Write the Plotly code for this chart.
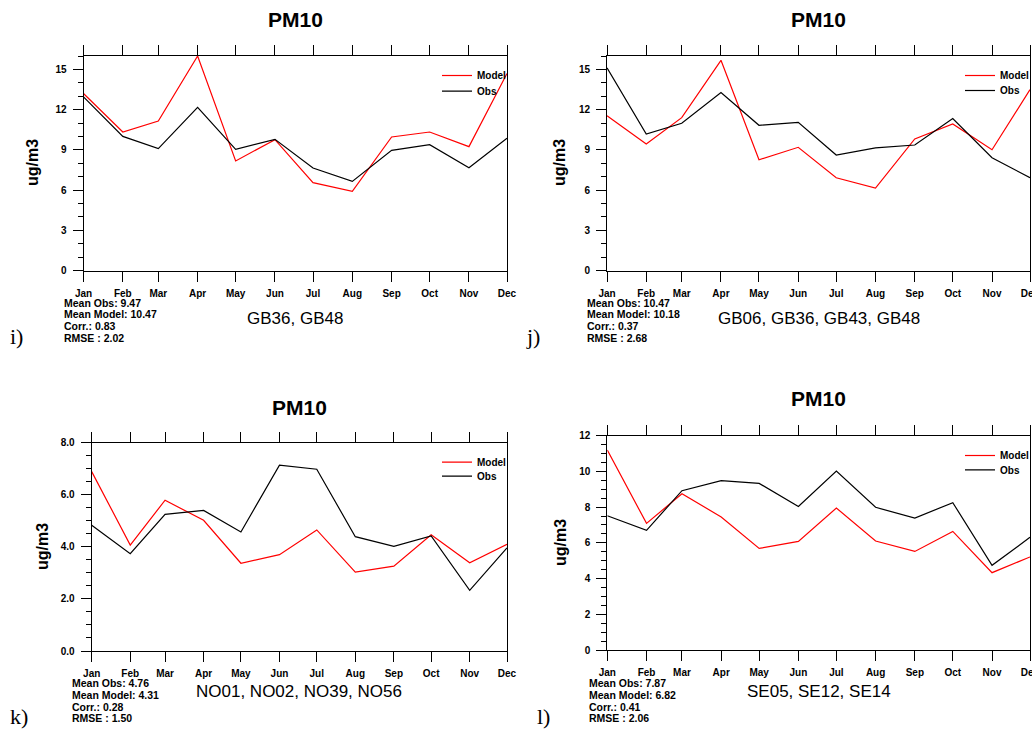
import plotly.graph_objects as go

# ---------------- data ----------------
month_labels = ["Jan", "Feb", "Mar", "Apr", "May", "Jun", "Jul", "Aug", "Sep", "Oct", "Nov", "Dec"]
month_dates = ["2001-01-01", "2001-02-01", "2001-03-01", "2001-04-01", "2001-05-01", "2001-06-01",
               "2001-07-01", "2001-08-01", "2001-09-01", "2001-10-01", "2001-11-01", "2001-12-01"]

i_model = [13.2, 10.33, 11.15, 16.0, 8.17, 9.76, 6.55, 5.9, 9.96, 10.33, 9.24, 14.7]
i_obs = [12.95, 10.0, 9.09, 12.17, 9.04, 9.78, 7.64, 6.65, 8.96, 9.39, 7.67, 9.86]
j_model = [11.55, 9.43, 11.4, 15.68, 8.26, 9.19, 6.92, 6.15, 9.81, 10.93, 9.01, 13.49]
j_obs = [15.11, 10.18, 10.98, 13.27, 10.83, 11.05, 8.61, 9.14, 9.36, 11.33, 8.41, 6.92]
k_model = [6.89, 4.07, 5.79, 5.02, 3.37, 3.70, 4.65, 3.03, 3.26, 4.46, 3.39, 4.10]
k_obs = [4.83, 3.74, 5.25, 5.40, 4.57, 7.14, 6.98, 4.39, 4.02, 4.42, 2.33, 3.96]
l_model = [11.2, 7.09, 8.75, 7.45, 5.69, 6.08, 7.95, 6.10, 5.52, 6.64, 4.33, 5.21]
l_obs = [7.52, 6.70, 8.92, 9.48, 9.33, 8.04, 10.02, 7.99, 7.39, 8.25, 4.74, 6.31]

panel_tags = ["i)", "j)", "k)", "l)"]
station_groups = ["GB36, GB48", "GB06, GB36, GB43, GB48", "NO01, NO02, NO39, NO56", "SE05, SE12, SE14"]
mean_obs = [9.47, 10.47, 4.76, 7.87]
mean_model = [10.47, 10.18, 4.31, 6.82]
corr = [0.83, 0.37, 0.28, 0.41]
rmse = [2.02, 2.68, 1.50, 2.06]
y_max = [16, 16, 8, 12]
y_major = [3, 3, 2, 2]
y_minor = [1, 1, 0.5, 0.5]
y_fmt = ["d", "d", ".1f", "d"]

models = [i_model, j_model, k_model, l_model]
obss = [i_obs, j_obs, k_obs, l_obs]

# ---------------- layout geometry (pixels) ----------------
W, H = 1032, 733
boxes = [  # left, right, top, bottom
    (83.5, 507, 56, 270.5),
    (607, 1030, 56, 270.5),
    (91.7, 507, 442.7, 651),
    (607.3, 1030, 435.7, 650),
]
title_y = [20, 20, 407, 398]
sub_y = [318, 318, 691, 691]
stats_x = [62, 585, 70, 587]
stats_y0 = [302.5, 302.5, 683, 683]
tag_pos = [(16, 337), (533, 337), (19, 716), (543, 716)]
ylab_pos = [(33, 163), (560, 163), (42, 547), (560, 543)]
legend_x = [437, 960, 437, 960]
legend_y_model = [61, 61, 447.7, 441]
legend_y_obs = [76.7, 76, 461.7, 455.3]

FONT = "Liberation Sans, Arial, Helvetica, sans-serif"


def fx(px):
    return px / W


def fy(py):
    return 1 - py / H


def legend_box(x_px, y_px):
    return dict(
        x=fx(x_px), y=fy(y_px), xanchor="left", yanchor="top", xref="paper", yref="paper",
        bgcolor="rgba(0,0,0,0)", borderwidth=0, tracegroupgap=0, itemwidth=30,
        font=dict(family=FONT, size=10, color="black", weight="bold"),
    )


fig = go.Figure()
annotations = []

for p in range(4):
    n = "" if p == 0 else str(p + 1)
    xa, ya = "x" + n, "y" + n
    leg_m = "legend" if p == 0 else "legend" + str(2 * p + 1)
    leg_o = "legend" + str(2 * p + 2)
    fig.add_trace(go.Scatter(x=month_dates, y=models[p], mode="lines", name="Model",
                             line=dict(color="#ff0000", width=1.2), xaxis=xa, yaxis=ya,
                             legend=leg_m, showlegend=True))
    fig.add_trace(go.Scatter(x=month_dates, y=obss[p], mode="lines", name="Obs",
                             line=dict(color="#000000", width=1.2), xaxis=xa, yaxis=ya,
                             legend=leg_o, showlegend=True))
    l, r, t, b = boxes[p]
    xaxis = dict(
        domain=[fx(l), fx(r)], anchor=ya, type="date", automargin=False,
        range=[month_dates[0], month_dates[-1]],
        tickvals=month_dates, ticktext=month_labels,
        ticks="outside", ticklen=10, tickwidth=1, tickcolor="black",
        showline=True, linecolor="black", linewidth=1, mirror="ticks",
        showgrid=False, zeroline=False, ticklabeloverflow="allow",
        tickfont=dict(family=FONT, size=10, color="black", weight="bold"),
        ticklabelstandoff=3,
    )
    yaxis = dict(
        domain=[fy(b), fy(t)], anchor=xa, range=[0, y_max[p]], automargin=False,
        tick0=0, dtick=y_major[p], tickformat=y_fmt[p],
        ticks="outside", ticklen=10, tickwidth=1, tickcolor="black",
        minor=dict(dtick=y_minor[p], tick0=0, ticks="outside", ticklen=5, tickwidth=1, tickcolor="black"),
        showline=True, linecolor="black", linewidth=1, mirror=True,
        showgrid=False, zeroline=False,
        tickfont=dict(family=FONT, size=10, color="black", weight="bold"),
        ticklabelstandoff=4,
    )
    fig.layout["xaxis" + n] = xaxis
    fig.layout["yaxis" + n] = yaxis
    fig.layout[leg_m] = legend_box(legend_x[p], legend_y_model[p])
    fig.layout[leg_o] = legend_box(legend_x[p], legend_y_obs[p])

    cx = fx((l + r) / 2)
    annotations.append(dict(text="PM10", x=cx, y=fy(title_y[p]), xref="paper", yref="paper",
                            showarrow=False, xanchor="center", yanchor="middle",
                            font=dict(family=FONT, size=21, color="black", weight="bold")))
    annotations.append(dict(text=station_groups[p], x=cx, y=fy(sub_y[p]), xref="paper", yref="paper",
                            showarrow=False, xanchor="center", yanchor="middle",
                            font=dict(family=FONT, size=17, color="black")))
    stats = [f"Mean Obs: {mean_obs[p]:.2f}", f"Mean Model: {mean_model[p]:.2f}",
             f"Corr.: {corr[p]:.2f}", f"RMSE : {rmse[p]:.2f}"]
    for k, s in enumerate(stats):
        annotations.append(dict(text=s, x=fx(stats_x[p]), y=fy(stats_y0[p] + 11.8 * k),
                                xref="paper", yref="paper", showarrow=False,
                                xanchor="left", yanchor="middle",
                                font=dict(family=FONT, size=10.5, color="black", weight="bold")))
    tx, ty = tag_pos[p]
    annotations.append(dict(text=panel_tags[p], x=fx(tx), y=fy(ty), xref="paper", yref="paper",
                            showarrow=False, xanchor="center", yanchor="middle",
                            font=dict(family="Liberation Serif, Times New Roman, serif", size=22, color="black")))
    yx, yy = ylab_pos[p]
    annotations.append(dict(text="ug/m3", x=fx(yx), y=fy(yy), xref="paper", yref="paper",
                            showarrow=False, xanchor="center", yanchor="middle", textangle=-90,
                            font=dict(family=FONT, size=16, color="black", weight="bold")))

fig.update_layout(
    width=W, height=H, margin=dict(l=0, r=0, t=0, b=0, autoexpand=False),
    paper_bgcolor="white", plot_bgcolor="white",
    annotations=annotations,
)

fig.write_html("out.html", config={"displayModeBar": False},
               post_script="document.body.style.margin='0px';document.body.style.overflow='hidden';")
